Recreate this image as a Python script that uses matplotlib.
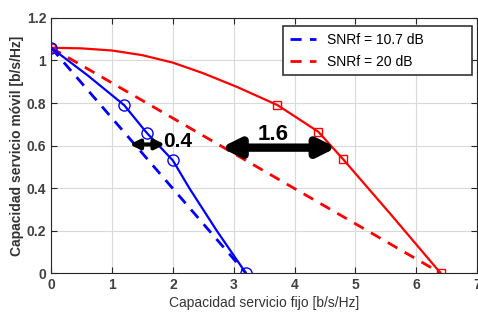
import matplotlib
matplotlib.use("Agg")
import matplotlib.pyplot as plt

plt.rcParams['font.family'] = ['Liberation Sans', 'DejaVu Sans']

# Curvas
blue_x = [0, 0.6, 1.2, 1.57, 2.0, 2.27, 2.72, 3.2]
blue_y = [1.06, 0.93, 0.79, 0.66, 0.53, 0.40, 0.20, 0]
blue_marks = [0, 2, 3, 4, 7]

red_x = [0, 0.5, 1.0, 1.5, 2.0, 2.5, 3.06, 3.72, 4.39, 4.8, 5.6, 6.4]
red_y = [1.06, 1.057, 1.047, 1.025, 0.99, 0.94, 0.875, 0.79, 0.665, 0.535, 0.27, 0]
red_marks = [0, 7, 8, 9, 11]

tdma_blue_x = [0, 3.2]
tdma_blue_y = [1.06, 0]
tdma_red_x = [0, 6.4]
tdma_red_y = [1.06, 0]

legend_labels = ["SNRf = 10.7 dB", "SNRf = 20 dB"]

fig = plt.figure(figsize=(4.78, 3.27), dpi=100)
ax = fig.add_axes([0.107, 0.165, 0.891, 0.78])

ax.plot(tdma_blue_x, tdma_blue_y, '--', color='blue', lw=2, dashes=(4, 3), label=legend_labels[0])
ax.plot(tdma_red_x, tdma_red_y, '--', color='red', lw=2, dashes=(4, 3), label=legend_labels[1])
ax.plot(red_x, red_y, '-', color='red', lw=1.6, marker='s', ms=6, mfc='none',
        markevery=red_marks)
ax.plot(blue_x, blue_y, '-', color='blue', lw=1.6, marker='o', ms=8, mfc='none',
        markevery=blue_marks)

# flechas de ganancia
ax.annotate('', xy=(1.87, 0.605), xytext=(1.29, 0.605),
            arrowprops=dict(arrowstyle='<|-|>', lw=3, color='black',
                            mutation_scale=14, shrinkA=0, shrinkB=0))
ax.text(2.08, 0.62, '0.4', fontsize=15, fontweight='bold', ha='center', va='center')
ax.annotate('', xy=(4.69, 0.59), xytext=(2.79, 0.59),
            arrowprops=dict(arrowstyle='<|-|>', lw=6, color='black',
                            mutation_scale=26, shrinkA=0, shrinkB=0))
ax.text(3.65, 0.65, '1.6', fontsize=16, fontweight='bold', ha='center', va='center')

ax.set_xlim(0, 7)
ax.set_ylim(0, 1.2)
ax.set_xticks(range(8))
ax.set_yticks([0, 0.2, 0.4, 0.6, 0.8, 1.0, 1.2])
ax.set_yticklabels(['0', '0.2', '0.4', '0.6', '0.8', '1', '1.2'])
ax.grid(True, color='#d9d9d9', lw=0.8)
ax.set_axisbelow(True)
ax.tick_params(direction='in', top=True, right=True, length=4, colors='#262626',
               labelsize=10, labelcolor='#404040')
for lab in ax.get_xticklabels() + ax.get_yticklabels():
    lab.set_fontweight('bold')
for sp in ax.spines.values():
    sp.set_color('#262626')

ax.set_xlabel('Capacidad servicio fijo [b/s/Hz]', fontsize=10, color='#333333', labelpad=3)
ax.set_ylabel('Capacidad servicio móvil [b/s/Hz]', fontsize=10, fontweight='bold',
              color='#333333', labelpad=2)

leg = ax.legend(loc='lower left', mode='expand', fancybox=False, edgecolor='#333333',
                fontsize=10, handlelength=1.9, borderpad=0.45, labelspacing=0.6,
                bbox_to_anchor=(0.545, 0.776, 0.443, 0.197), framealpha=1,
                borderaxespad=0)
leg.get_frame().set_linewidth(1.2)

fig.savefig('out.png', dpi=100)
